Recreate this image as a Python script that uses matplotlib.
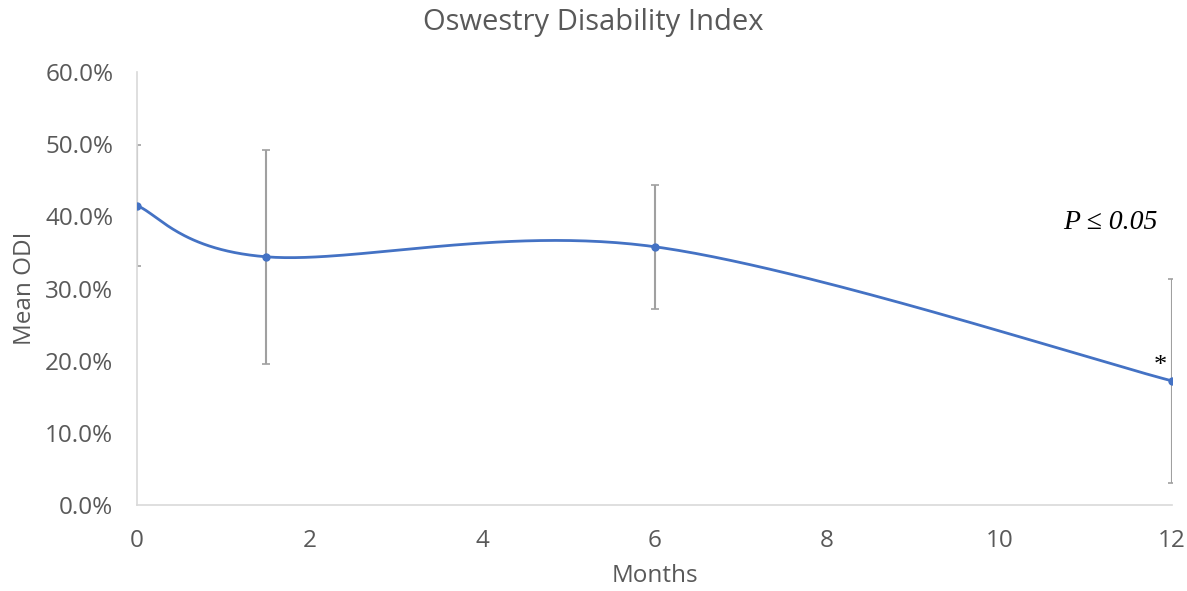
import numpy as np
import matplotlib.pyplot as plt
from matplotlib.ticker import FuncFormatter

months = [0, 1.5, 6, 12]
mean_odi = [41.5, 34.4, 35.8, 17.2]
err_odi = [8.4, 14.8, 8.6, 14.1]
xticks = [0, 2, 4, 6, 8, 10, 12]
yticks = [0, 10, 20, 30, 40, 50, 60]

grey = '#595959'
blue = '#4472C4'


def excel_smooth(x, y, sx, sy, n=60):
    # bezier smoothing similar to excel's "smoothed line", done in pixel-ish units
    p = np.column_stack([np.array(x) * sx, np.array(y) * sy])
    pts = np.vstack([p[0], p, p[-1]])
    out = []
    for i in range(1, len(pts) - 2):
        p0, p1, p2, p3 = pts[i - 1], pts[i], pts[i + 1], pts[i + 2]
        c1 = p1 + (p2 - p0) / 6
        c2 = p2 - (p3 - p1) / 6
        t = np.linspace(0, 1, n)[:, None]
        seg = (1 - t) ** 3 * p1 + 3 * (1 - t) ** 2 * t * c1 + 3 * (1 - t) * t ** 2 * c2 + t ** 3 * p2
        out.append(seg)
    out = np.vstack(out)
    return out[:, 0] / sx, out[:, 1] / sy


fig = plt.figure(figsize=(11.87, 5.91), dpi=100)
ax = fig.add_axes([0.1154, 0.1455, 0.872, 0.7325])

ax.errorbar(months, mean_odi, yerr=err_odi, fmt='none', ecolor='#a0a0a0',
            elinewidth=1.5, capsize=3, capthick=1.2, zorder=2)
sx, sy = excel_smooth(months, mean_odi, 86.25, 7.22)
ax.plot(sx, sy, color=blue, lw=2, zorder=3)
ax.plot(months, mean_odi, 'o', color=blue, ms=5, zorder=4)

ax.set_xlim(0, 12)
ax.set_ylim(0, 60)
ax.set_xticks(xticks)
ax.set_yticks(yticks)
ax.yaxis.set_major_formatter(FuncFormatter(lambda v, p: f'{v:.1f}%'))
ax.tick_params(length=0, labelsize=17.5, colors=grey)
ax.tick_params(axis='y', pad=17)
ax.tick_params(axis='x', pad=17)
for lab in ax.get_xticklabels() + ax.get_yticklabels():
    lab.set_family('Open Sans')

for s in ['top', 'right']:
    ax.spines[s].set_visible(False)
for s in ['left', 'bottom']:
    ax.spines[s].set_color('#d9d9d9')
    ax.spines[s].set_linewidth(1.2)

ax.set_xlabel('Months', fontsize=17.5, color=grey, family='Open Sans', labelpad=8)
ax.set_ylabel('Mean ODI', fontsize=17.5, color=grey, family='Open Sans', labelpad=6)
# title is centred on the whole figure, not the axes
fig.text(0.5, 0.962, 'Oswestry Disability Index', fontsize=21, color=grey,
         family='Open Sans', ha='center', va='center')

ax.text(11.28, 39.2, 'P ≤ 0.05', fontsize=20, family='Liberation Serif', style='italic',
        ha='center', va='center', color='black')
ax.text(11.87, 19.3, '*', fontsize=19, family='Liberation Serif', ha='center', va='center')

fig.savefig('out.png', dpi=100)
